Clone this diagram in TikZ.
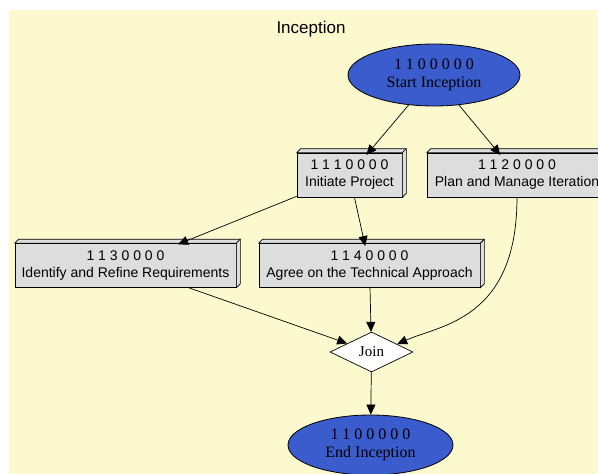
\documentclass[tikz,border=0pt]{standalone}
\usepackage{fontspec}
\setmainfont{Liberation Serif}
\setsansfont{Liberation Sans}
\usetikzlibrary{shapes.geometric,arrows.meta,calc}
\definecolor{clusterbg}{RGB}{252,249,206}
\definecolor{taskgray}{RGB}{221,221,221}
\definecolor{eventblue}{RGB}{59,92,204}
\begin{document}
\begin{tikzpicture}[x=1pt,y=-1pt,
  event/.style={ellipse, draw=black, line width=0.8pt, fill=eventblue,
    inner sep=0pt, align=center, font=\fontsize{16}{18}\selectfont},
  task/.style={rectangle, draw=black, line width=0.7pt, fill=taskgray,
    inner sep=0pt, minimum height=44pt, align=center,
    font=\sffamily\fontsize{14}{17}\selectfont},
  gate/.style={diamond, draw=black, line width=0.7pt, fill=white,
    inner sep=0pt, minimum width=83pt, minimum height=40pt, aspect=2.075,
    font=\fontsize{15}{17}\selectfont},
  face/.style={draw=black, line width=0.7pt, fill=taskgray, line join=round},
  flow/.style={draw=black, line width=0.7pt, -{Triangle[length=10pt,width=9pt]}},
  intobox/.style={flow, shorten >=-3pt},
]
\useasboundingbox (0,0) rectangle (598,474);
\clip (0,0) rectangle (598,474);

% cluster background
\fill[clusterbg] (9,10) rectangle (610,480);
\node[font=\sffamily\fontsize{17}{20}\selectfont] (title) at (311,29) {Inception};

% events
\node[event, minimum width=172pt, minimum height=62pt] (st) at (434,75)
  {1 1 0 0 0 0 0\\Start Inception};
\node[event, minimum width=165pt, minimum height=60pt] (en) at (370.5,445)
  {1 1 0 0 0 0 0\\End Inception};

% tasks
\node[task, minimum width=105pt] (ip) at (349.5,175) {1 1 1 0 0 0 0\\Initiate Project};
\node[task, minimum width=180pt] (pm) at (517,175) {1 1 2 0 0 0 0\\Plan and Manage Iteration};
\node[task, minimum width=221pt] (ir) at (125.5,265.5) {1 1 3 0 0 0 0\\Identify and Refine Requirements};
\node[task, minimum width=221pt] (ag) at (369.5,265.5) {1 1 4 0 0 0 0\\Agree on the Technical Approach};

% raised top and side faces of the task boxes
\foreach \n in {ip,pm,ir,ag}{
  \path[face] (\n.north west) -- ++(4,-4) -- ($(\n.north east)+(4,-4)$)
    -- (\n.north east) -- cycle;
  \path[face] (\n.north east) -- ++(4,-4) -- ($(\n.south east)+(4,-4)$)
    -- (\n.south east) -- cycle;
}

% join gate
\node[gate] (j) at (371.5,352) {Join};

% flows
\draw[intobox] (st) -- (ip);
\draw[intobox] (st) -- (pm);
\draw[intobox] (ip) -- (ir);
\draw[intobox] (ip) -- (ag);
\draw[flow] (ir) -- (j);
\draw[flow] (ag) -- (j);
\draw[flow] (pm.south) .. controls (517,320) and (440,325) .. (j.17);
\draw[flow] (j) -- (en);
\end{tikzpicture}
\end{document}
